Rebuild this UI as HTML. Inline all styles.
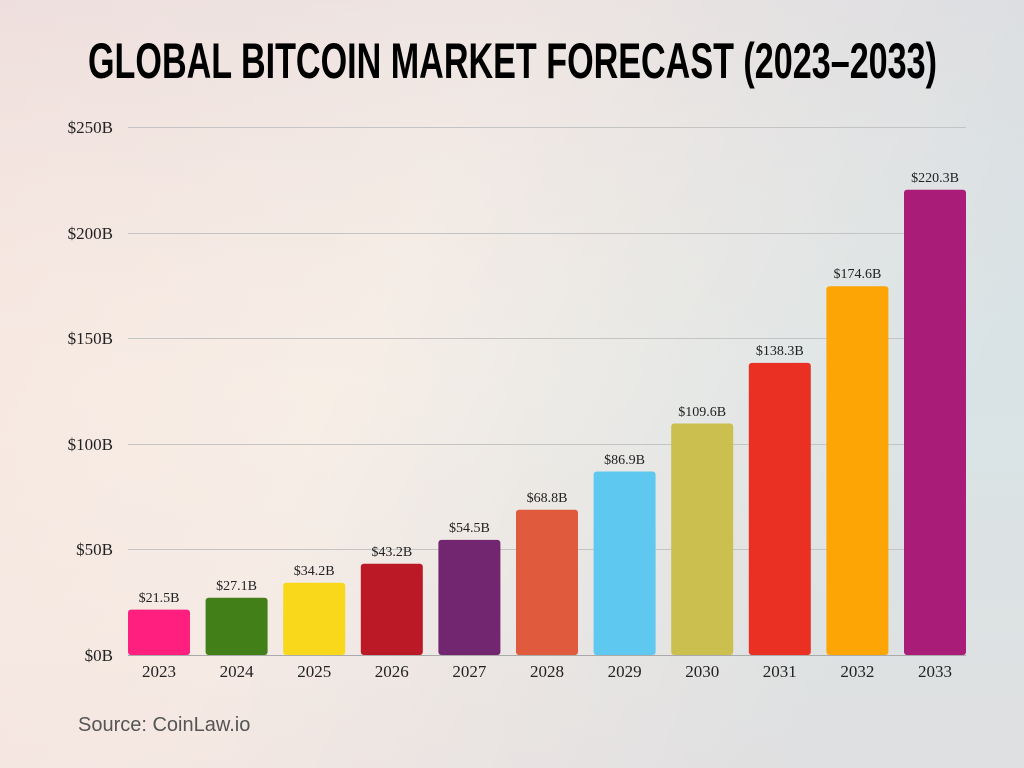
<!DOCTYPE html>
<html><head><meta charset="utf-8"><style>
html,body{margin:0;padding:0;width:1024px;height:768px;overflow:hidden}
</style></head><body>
<svg width="1024" height="768" xmlns="http://www.w3.org/2000/svg">
<defs>
<linearGradient id="bg" x1="0" y1="0" x2="1" y2="0.35">
<stop offset="0" stop-color="#f6e2dc"/>
<stop offset="0.45" stop-color="#f5ede6"/>
<stop offset="1" stop-color="#cadde4"/>
</linearGradient>
<linearGradient id="bg2" x1="0" y1="0" x2="0" y2="1">
<stop offset="0" stop-color="#e6dcde" stop-opacity="0.5"/>
<stop offset="0.5" stop-color="#fbf1e8" stop-opacity="0.3"/>
<stop offset="1" stop-color="#f4e2de" stop-opacity="0.5"/>
</linearGradient>
</defs>
<rect width="1024" height="768" fill="url(#bg)"/>
<rect width="1024" height="768" fill="url(#bg2)"/>
<text x="88" y="78" font-family="Liberation Sans, sans-serif" font-weight="bold" font-size="50" textLength="849" lengthAdjust="spacingAndGlyphs" fill="#000">GLOBAL BITCOIN MARKET FORECAST (2023–2033)</text>
<g stroke="#c4c4c4" stroke-width="1">
<line x1="128" x2="966" y1="127.5" y2="127.5"/>
<line x1="128" x2="966" y1="233.5" y2="233.5"/>
<line x1="128" x2="966" y1="338.5" y2="338.5"/>
<line x1="128" x2="966" y1="444.5" y2="444.5"/>
<line x1="128" x2="966" y1="549.5" y2="549.5"/>
<line x1="128" x2="966" y1="655.5" y2="655.5" stroke="#aaa"/>
</g>
<g font-family="Liberation Serif, serif" font-size="17" fill="#222" text-anchor="end">
<text x="113" y="133">$250B</text>
<text x="113" y="239">$200B</text>
<text x="113" y="344">$150B</text>
<text x="113" y="450">$100B</text>
<text x="113" y="555">$50B</text>
<text x="113" y="661">$0B</text>
</g>
<g>
<rect x="128" y="609.6" width="62" height="45.4" rx="3" fill="#fe1f7e"/>
<rect x="205.6" y="597.8" width="62" height="57.2" rx="3" fill="#437f18"/>
<rect x="283.2" y="582.8" width="62" height="72.2" rx="3" fill="#f9d81b"/>
<rect x="360.8" y="563.8" width="62" height="91.2" rx="3" fill="#ba1925"/>
<rect x="438.4" y="539.9" width="62" height="115.1" rx="3" fill="#732670"/>
<rect x="516" y="509.7" width="62" height="145.3" rx="3" fill="#e05a3d"/>
<rect x="593.6" y="471.5" width="62" height="183.5" rx="3" fill="#5ec8f0"/>
<rect x="671.2" y="423.5" width="62" height="231.5" rx="3" fill="#cbbf4f"/>
<rect x="748.8" y="362.9" width="62" height="292.1" rx="3" fill="#e93022"/>
<rect x="826.4" y="286.2" width="62" height="368.8" rx="3" fill="#fca504"/>
<rect x="904" y="189.7" width="62" height="465.3" rx="3" fill="#a91d79"/>
</g>
<g font-family="Liberation Serif, serif" font-size="14" fill="#222" text-anchor="middle">
<text x="159" y="602">$21.5B</text>
<text x="236.6" y="590">$27.1B</text>
<text x="314.2" y="575">$34.2B</text>
<text x="391.8" y="556">$43.2B</text>
<text x="469.4" y="532">$54.5B</text>
<text x="547" y="502">$68.8B</text>
<text x="624.6" y="464">$86.9B</text>
<text x="702.2" y="416">$109.6B</text>
<text x="779.8" y="355">$138.3B</text>
<text x="857.4" y="278">$174.6B</text>
<text x="935" y="182">$220.3B</text>
</g>
<g font-family="Liberation Serif, serif" font-size="17" fill="#222" text-anchor="middle">
<text x="159" y="677">2023</text>
<text x="236.6" y="677">2024</text>
<text x="314.2" y="677">2025</text>
<text x="391.8" y="677">2026</text>
<text x="469.4" y="677">2027</text>
<text x="547" y="677">2028</text>
<text x="624.6" y="677">2029</text>
<text x="702.2" y="677">2030</text>
<text x="779.8" y="677">2031</text>
<text x="857.4" y="677">2032</text>
<text x="935" y="677">2033</text>
</g>
<text x="78" y="731" font-family="Liberation Sans, sans-serif" font-size="20" fill="#555">Source: CoinLaw.io</text>
</svg>
</body></html>
